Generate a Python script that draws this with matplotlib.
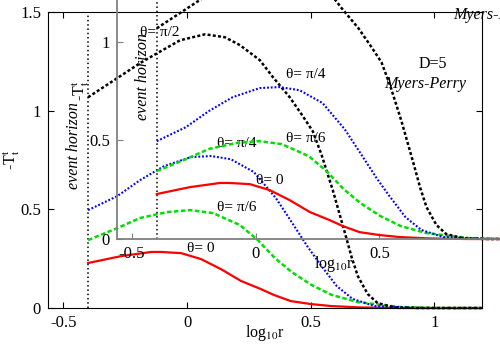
import matplotlib.pyplot as plt

plt.rcParams['font.family'] = ['Liberation Serif', 'DejaVu Serif']
plt.rcParams['mathtext.fontset'] = 'stix'

# event horizon position (log10 r)
horizon = -0.4

# theta = 0 (red, solid)
x_t0 = [-0.4, -0.266, -0.145, -0.105, -0.024, 0.056, 0.137, 0.218, 0.298, 0.351, 0.419, 0.5, 0.581, 0.698, 0.859, 1.19]
y_t0 = [0.228, 0.263, 0.284, 0.284, 0.278, 0.248, 0.197, 0.137, 0.096, 0.066, 0.035, 0.020, 0.010, 0.003, 0.0, 0.0]

# theta = pi/6 (green, dashed)
x_t6 = [-0.4, -0.282, -0.19, -0.081, 0.012, 0.105, 0.214, 0.286, 0.355, 0.423, 0.504, 0.585, 0.69, 0.859, 1.02, 1.19]
y_t6 = [0.344, 0.405, 0.456, 0.486, 0.496, 0.481, 0.420, 0.344, 0.253, 0.182, 0.116, 0.066, 0.030, 0.005, 0.0, 0.0]

# theta = pi/4 (blue, dotted)
x_t4 = [-0.4, -0.282, -0.19, -0.093, 0.016, 0.097, 0.177, 0.270, 0.359, 0.423, 0.488, 0.540, 0.605, 0.669, 0.758, 0.94, 1.19]
y_t4 = [0.496, 0.567, 0.648, 0.719, 0.765, 0.770, 0.754, 0.689, 0.557, 0.435, 0.309, 0.218, 0.111, 0.046, 0.010, 0.0, 0.0]

# theta = pi/2 (black, dotted)
x_t2 = [-0.4, -0.282, -0.19, -0.121, -0.028, 0.073, 0.153, 0.214, 0.294, 0.347, 0.415, 0.468, 0.508,
        0.544, 0.589, 0.637, 0.665, 0.690, 0.730, 0.770, 0.839, 0.94, 1.19]
y_t2 = [1.068, 1.165, 1.241, 1.291, 1.357, 1.387, 1.372, 1.332, 1.256, 1.170, 1.068, 0.972, 0.896,
        0.775, 0.597, 0.385, 0.258, 0.162, 0.071, 0.025, 0.003, 0.0, 0.0]

xticks = [-0.5, 0, 0.5, 1]
xtick_labels = ['-0.5', '0', '0.5', '1']
yticks = [0, 0.5, 1, 1.5]
ytick_labels = ['0', '0.5', '1', '1.5']


def draw(ax, spine_color, extra_label):
    ax.axvline(horizon, color='black', ls=(0, (1, 1.8)), lw=1.1, zorder=1)
    ax.plot(x_t0, y_t0, color='#ff0000', lw=1.6, clip_on=False)
    ax.plot(x_t6, y_t6, color='#00e000', lw=1.8, ls=(0, (1.8, 1.0)), clip_on=False)
    ax.plot(x_t4, y_t4, color='#0000ff', lw=1.5, ls=(0, (0.9, 0.9)), clip_on=False)
    ax.plot(x_t2, y_t2, color='black', lw=1.8, ls=(0, (1.2, 0.9)), clip_on=False)

    ax.set_xlim(-0.562, 1.192)
    ax.set_ylim(0, 1.5)
    ax.set_xticks(xticks)
    ax.set_xticklabels(xtick_labels)
    ax.set_yticks(yticks)
    ax.set_yticklabels(ytick_labels)
    ax.tick_params(direction='in', length=4, labelsize=12, pad=5, color=spine_color)

    ax.text(0.121, 0.835, 'θ= π/4', fontsize=11, va='center')
    ax.text(0.121, 0.511, 'θ= π/6', fontsize=11, va='center')
    ax.text(0.0, 0.299, 'θ= 0', fontsize=11, va='center')
    if extra_label:
        ax.text(-0.468, 1.048, 'θ= π/2', fontsize=11, va='center')
    ax.text(0.992, 1.235, 'D=5', fontsize=11.5, ha='center', va='center')
    ax.text(0.964, 1.134, 'Myers-Perry', fontsize=11.5, style='italic', ha='center', va='center')
    ax.text(-0.456, 0.825, 'event horizon', fontsize=11.5, style='italic', rotation=90,
            ha='center', va='center')

    ax.text(0.5, -0.085, r'log$_{10}$r', fontsize=11.5, ha='center', va='center', transform=ax.transAxes)
    ax.text(-0.083, 0.5, r'-T$_\mathrm{t}^\mathrm{t}$', fontsize=11.5, rotation=90,
            ha='center', va='center', transform=ax.transAxes)


fig = plt.figure(figsize=(5, 3.5), dpi=100)

ax = fig.add_axes([0.096, 0.12, 0.868, 0.8457])
draw(ax, 'black', False)
ax.tick_params(top=True, right=True)
for s in ax.spines.values():
    s.set_linewidth(0.8)

# second copy of the same panel, shifted up and right
ax2 = fig.add_axes([0.2334, 0.3171, 0.868, 0.8457])
ax2.patch.set_alpha(0)
draw(ax2, '#808080', True)
ax2.spines['top'].set_visible(False)
ax2.spines['right'].set_visible(False)
ax2.spines['left'].set_color('#808080')
ax2.spines['bottom'].set_color('#808080')
ax2.spines['left'].set_linewidth(1.3)
ax2.spines['bottom'].set_linewidth(1.3)

fig.savefig('out.png', dpi=100)
